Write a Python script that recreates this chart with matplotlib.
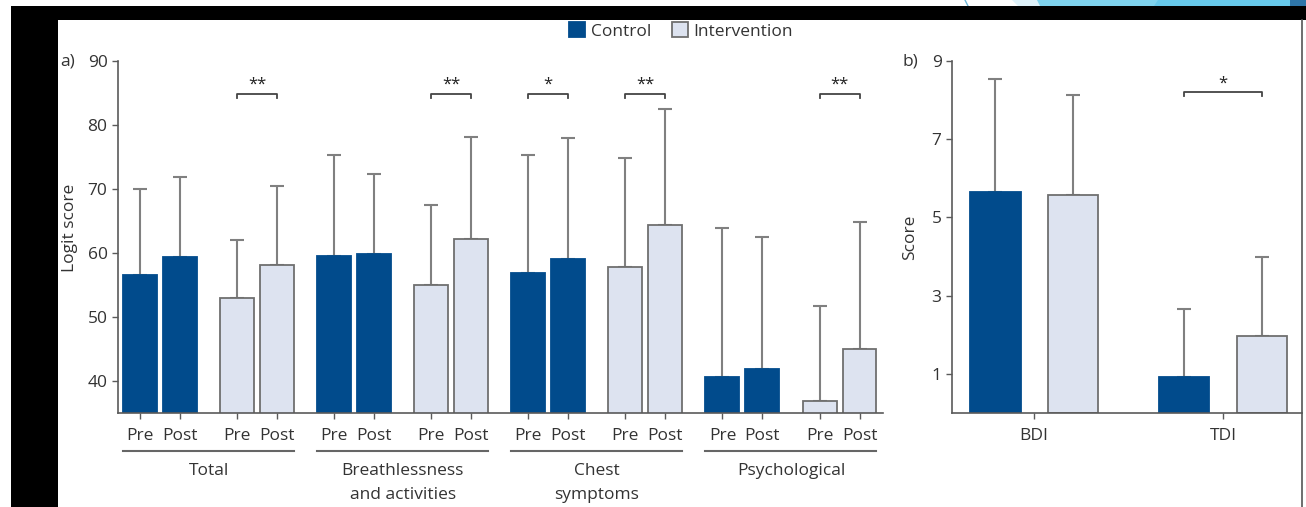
import matplotlib
matplotlib.use("Agg")
import matplotlib.pyplot as plt
from matplotlib.patches import Rectangle, Polygon
from matplotlib.transforms import blended_transform_factory
import numpy as np

# ---------------- data ----------------
groups = ["Total", "Breathlessness\nand activities", "Chest\nsymptoms", "Psychological"]
arms = ["Control", "Intervention"]
control_pre = [56.6, 59.5, 56.8, 40.6]
control_pre_sd = [13.4, 15.8, 18.5, 23.3]
control_post = [59.4, 59.8, 59.0, 41.9]
control_post_sd = [12.4, 12.5, 18.9, 20.6]
intervention_pre = [53.0, 55.0, 57.8, 36.9]
intervention_pre_sd = [9.1, 12.5, 17.1, 14.8]
intervention_post = [58.1, 62.2, 64.4, 45.0]
intervention_post_sd = [12.3, 16.0, 18.1, 19.8]
# significance: (group index, arm index, label)
sig_a = [(0, 1, "**"), (1, 1, "**"), (2, 0, "*"), (2, 1, "**"), (3, 1, "**")]

scales_b = ["BDI", "TDI"]
control_b = [5.64, 0.91]
control_b_sd = [2.89, 1.74]
intervention_b = [5.58, 1.97]
intervention_b_sd = [2.56, 2.03]
sig_b = [(1, "*")]

a_yticks = [40, 50, 60, 70, 80, 90]
b_yticks = [1, 3, 5, 7, 9]

# ---------------- style ----------------
plt.rcParams['font.family'] = ['Open Sans', 'DejaVu Sans']
FS = 12.5
DARK = "#014b8c"
LIGHT = "#dde3f0"
EDGE = "#6f6f6f"
ERR = "#808080"
TXT = "#333333"
SPINE = "#5a5a5a"

W, H = 1306, 507
fig = plt.figure(figsize=(W / 100, H / 100), dpi=100)
fig.patch.set_facecolor("white")

def fx(x):
    return x / W

def fy(y):
    return 1 - y / H

ax = fig.add_axes([fx(118), fy(413), fx(883) - fx(118), fy(61) - fy(413)])
bx = fig.add_axes([fx(952), fy(413), fx(1302) - fx(952), fy(61) - fy(413)])

OFF = 0.206
BW = 0.35

def style_axes(a):
    for s in ["top", "right"]:
        a.spines[s].set_visible(False)
    for s in ["left", "bottom"]:
        a.spines[s].set_color(SPINE)
        a.spines[s].set_linewidth(1.2)
    a.tick_params(axis="both", colors=SPINE, labelcolor=TXT, length=4, width=1.0, labelsize=FS)

# ---------------- panel a ----------------
tick_pos, tick_lab = [], []
for g in range(len(groups)):
    for arm in range(2):
        c = 2 * g + arm
        if arm == 0:
            vals = [control_pre[g], control_post[g]]
            sds = [control_pre_sd[g], control_post_sd[g]]
            fc, ec = DARK, DARK
        else:
            vals = [intervention_pre[g], intervention_post[g]]
            sds = [intervention_pre_sd[g], intervention_post_sd[g]]
            fc, ec = LIGHT, EDGE
        xs = [c - OFF, c + OFF]
        ax.bar(xs, vals, width=BW, color=fc, edgecolor=ec, linewidth=1.3, zorder=2)
        ax.errorbar(xs, vals, yerr=[[0, 0], sds], fmt="none", ecolor=ERR,
                    elinewidth=1.5, capsize=5, capthick=1.5, zorder=1)
        tick_pos += xs
        tick_lab += ["Pre", "Post"]

ax.set_xlim(-0.433, 7.448)
ax.set_ylim(35, 90)
ax.set_yticks(a_yticks)
ax.set_xticks(tick_pos)
ax.set_xticklabels(tick_lab)
style_axes(ax)
ax.tick_params(axis="x", pad=7)
ax.set_ylabel("Logit score", fontsize=FS, color=TXT)
ax.yaxis.set_label_coords(-0.052, 0.525)

# significance brackets
for g, arm, lab in sig_a:
    c = 2 * g + arm
    x0, x1 = c - OFF, c + OFF
    ax.plot([x0, x0, x1, x1], [84.2, 84.8, 84.8, 84.2], color="#444444", lw=1.3, clip_on=False)
    ax.text(c, 85.0, lab, ha="center", va="bottom", fontsize=12, color="#222222")

# group underline + labels
trans = blended_transform_factory(ax.transData, ax.transAxes)
line_y = (413 - 451) / (413 - 61)
lab_y = (413 - 463) / (413 - 61)
for g, name in enumerate(groups):
    x0 = 2 * g - OFF - BW / 2
    x1 = 2 * g + 1 + OFF + BW / 2
    ax.plot([x0, x1], [line_y, line_y], transform=trans, color="#666666", lw=1.5, clip_on=False)
    ax.text((x0 + x1) / 2, lab_y, name, transform=trans, ha="center", va="top",
            fontsize=FS, color=TXT, linespacing=1.65)

fig.text(fx(60), fy(61), "a)", ha="left", va="center", fontsize=FS, color=TXT)

# ---------------- panel b ----------------
BOFF = 0.204
BBW = 0.265
xb = np.arange(len(scales_b))
bx.bar(xb - BOFF, control_b, width=BBW, color=DARK, edgecolor=DARK, linewidth=1.3, zorder=2, label=arms[0])
bx.bar(xb + BOFF, intervention_b, width=BBW, color=LIGHT, edgecolor=EDGE, linewidth=1.3, zorder=2, label=arms[1])
bx.errorbar(xb - BOFF, control_b, yerr=[np.zeros(2), control_b_sd], fmt="none", ecolor=ERR,
            elinewidth=1.5, capsize=5, capthick=1.5, zorder=1)
bx.errorbar(xb + BOFF, intervention_b, yerr=[np.zeros(2), intervention_b_sd], fmt="none", ecolor=ERR,
            elinewidth=1.5, capsize=5, capthick=1.5, zorder=1)
bx.set_xlim(-0.434, 1.418)
bx.set_ylim(0, 9)
bx.set_yticks(b_yticks)
bx.set_xticks(xb)
bx.set_xticklabels(scales_b)
style_axes(bx)
bx.tick_params(axis="x", pad=7)
bx.set_ylabel("Score", fontsize=FS, color=TXT)
bx.yaxis.set_label_coords(-0.097, 0.5)
for i, lab in sig_b:
    x0, x1 = i - BOFF, i + BOFF
    bx.plot([x0, x0, x1, x1], [8.1, 8.2, 8.2, 8.1], color="#444444", lw=1.3, clip_on=False)
    bx.text(i, 8.22, lab, ha="center", va="bottom", fontsize=12, color="#222222")

fig.text(fx(903), fy(61), "b)", ha="left", va="center", fontsize=FS, color=TXT)

# legend
h, l = bx.get_legend_handles_labels()
fig.legend(h, l, loc="center", bbox_to_anchor=(fx(681), fy(31)), ncol=2, frameon=False,
           fontsize=FS, handlelength=0.95, handleheight=0.95, handletextpad=0.3,
           columnspacing=1.2, labelcolor=TXT, borderpad=0.1)

# ---------------- slide frame decoration ----------------
def rect(x0, y0, x1, y1, color, z=5):
    fig.add_artist(Rectangle((fx(x0), fy(y1)), fx(x1) - fx(x0), fy(y0) - fy(y1),
                             transform=fig.transFigure, facecolor=color, edgecolor="none", zorder=z))

def poly(pts, color, z=4):
    fig.add_artist(Polygon([(fx(x), fy(y)) for x, y in pts], closed=True,
                           transform=fig.transFigure, facecolor=color, edgecolor="none", zorder=z))

poly([(1012, 0), (1040, 0), (1040, 6), (1018, 6)], "#dff2fa")
poly([(1037, 0), (1160, 0), (1156, 6), (1040, 6)], "#7fd3ee")
poly([(1158, 0), (1292, 0), (1292, 6), (1154, 6)], "#66c8ea")
rect(1290, 0, 1306, 6, "#2f76a9")
fig.add_artist(plt.Line2D([fx(965), fx(968)], [fy(0), fy(6)], transform=fig.transFigure,
                          color="#6fb7d8", lw=1, zorder=5))
rect(11, 6, 1306, 20, "black")
rect(11, 6, 58, 507, "black")
fig.add_artist(plt.Line2D([fx(1302), fx(1302)], [fy(20), fy(507)], transform=fig.transFigure,
                          color="#555555", lw=1.2, zorder=5))

fig.savefig("out.png", dpi=100)
